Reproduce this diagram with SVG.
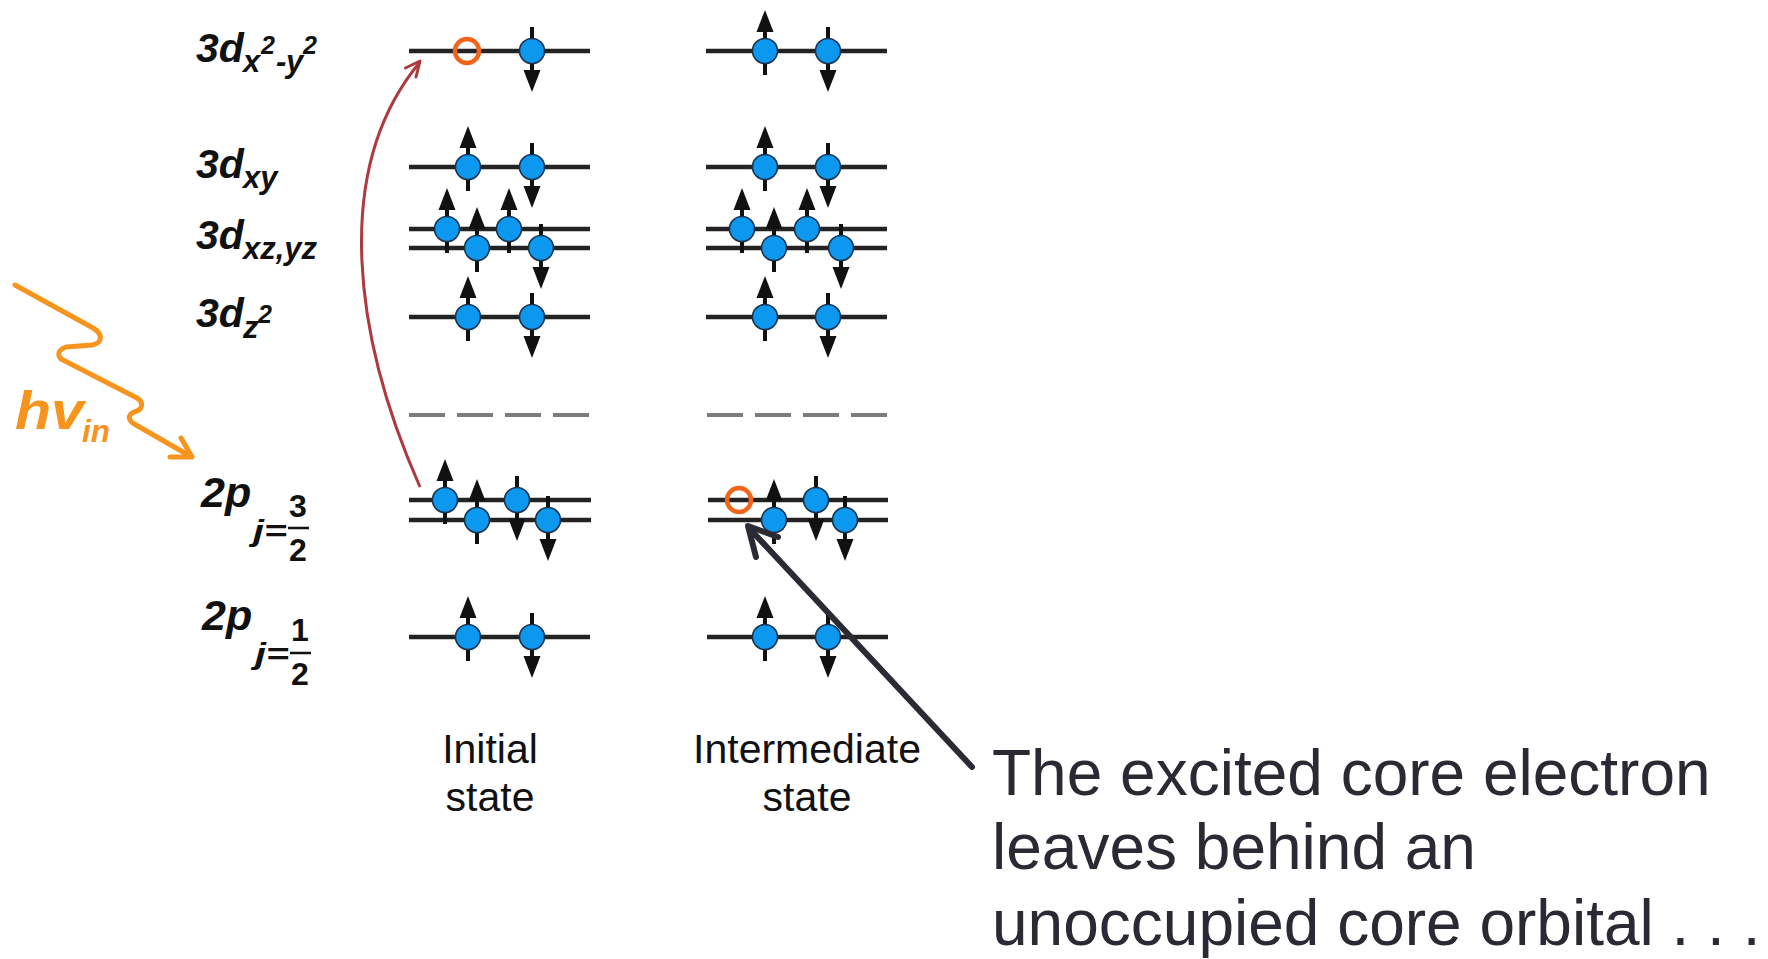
<svg xmlns="http://www.w3.org/2000/svg" xmlns:xlink="http://www.w3.org/1999/xlink" width="1768" height="959" viewBox="0 0 1768 959">
  <style>
    .lvl { stroke: #232323; stroke-width: 4.5; fill: none; }
    .dash { stroke: #7c7c7c; stroke-width: 4; stroke-dasharray: 36 12; fill: none; }
    .stem { stroke: #111; stroke-width: 4; }
    .head { fill: #111; }
    .el { fill: #0c98ef; stroke: #1a3450; stroke-width: 1.6; }
    .hole { fill: none; stroke: #f2641a; stroke-width: 4.5; }
    .orb { font-family: "Liberation Sans", Arial, sans-serif; font-weight: bold; font-style: italic; fill: #111; }
    .frac { font-family: "Liberation Sans", Arial, sans-serif; font-weight: bold; fill: #111; font-size: 32px; text-anchor: middle; }
    .state { font-family: "Liberation Sans", Arial, sans-serif; font-size: 41px; fill: #111; text-anchor: middle; }
    .note { font-family: "Liberation Sans", Arial, sans-serif; font-size: 64px; fill: #2a2a34; }
    .photon { fill: none; stroke: #f7941d; stroke-width: 5; stroke-linecap: round; stroke-linejoin: round; }
  </style>
  <defs>
    <!-- electron with spin up / spin down, centred on the level -->
    <g id="eu">
      <line class="stem" x1="0" y1="24" x2="0" y2="-20"/>
      <path class="head" d="M-8.5,-19 L8.5,-19 L0,-41 Z"/>
      <circle class="el" r="12.5"/>
    </g>
    <g id="ed">
      <line class="stem" x1="0" y1="-24" x2="0" y2="20"/>
      <path class="head" d="M-8.5,19 L8.5,19 L0,41 Z"/>
      <circle class="el" r="12.5"/>
    </g>
  </defs>

  <rect width="1768" height="959" fill="#ffffff"/>

  <!-- orbital labels -->
  <g id="label-3dx2y2">
    <text class="orb"><tspan x="196" y="62" font-size="41">3d</tspan><tspan x="243" y="72" font-size="31">x</tspan><tspan x="261" y="54" font-size="25">2</tspan><tspan x="276" y="72" font-size="31">-</tspan><tspan x="286" y="72" font-size="31">y</tspan><tspan x="303" y="54" font-size="25">2</tspan></text>
  </g>
  <g id="label-3dxy">
    <text class="orb"><tspan x="196" y="178" font-size="41">3d</tspan><tspan x="243" y="188" font-size="31">xy</tspan></text>
  </g>
  <g id="label-3dxzyz">
    <text class="orb"><tspan x="196" y="249" font-size="41">3d</tspan><tspan x="243" y="259" font-size="31">xz,yz</tspan></text>
  </g>
  <g id="label-3dz2">
    <text class="orb"><tspan x="196" y="327" font-size="41">3d</tspan><tspan x="243" y="338" font-size="31">z</tspan><tspan x="258" y="323" font-size="25">2</tspan></text>
  </g>
  <g id="label-2p32">
    <text class="orb" x="201" y="507" font-size="43">2p</text>
    <text class="orb" x="253" y="541" font-size="29" textLength="34" lengthAdjust="spacingAndGlyphs">j=</text>
    <text class="frac" x="298" y="517">3</text>
    <line x1="288" y1="528" x2="309" y2="528" stroke="#111" stroke-width="2.5"/>
    <text class="frac" x="298" y="561">2</text>
  </g>
  <g id="label-2p12">
    <text class="orb" x="202" y="630" font-size="43">2p</text>
    <text class="orb" x="255" y="664" font-size="29" textLength="34" lengthAdjust="spacingAndGlyphs">j=</text>
    <text class="frac" x="300" y="641">1</text>
    <line x1="290" y1="653" x2="311" y2="653" stroke="#111" stroke-width="2.5"/>
    <text class="frac" x="300" y="685">2</text>
  </g>

  <!-- incoming photon -->
  <g id="photon">
    <path class="photon" d="M15,285 L93,328 C103,334 103,343 92,345 L66,347 C57,350 57,357 63,360 L137,398 C144,402 143,410 134,412 C127,415 128,421 136,425 L190,456"/>
    <polyline class="photon" points="181,438 192,457 170,457"/>
    <text x="15" y="429" font-family="Liberation Sans, Arial, sans-serif" font-weight="bold" font-style="italic" font-size="54" fill="#f7941d" textLength="69" lengthAdjust="spacingAndGlyphs">hv</text>
    <text x="82" y="442" font-family="Liberation Sans, Arial, sans-serif" font-weight="bold" font-style="italic" font-size="31" fill="#f7941d" textLength="28" lengthAdjust="spacingAndGlyphs">in</text>
  </g>

  <!-- initial state column -->
  <g id="initial-state">
    <g id="init-3dx2y2">
      <line class="lvl" x1="409" y1="51" x2="590" y2="51"/>
      <circle class="hole" cx="467" cy="51" r="12"/>
      <use xlink:href="#ed" x="532" y="51"/>
    </g>
    <g id="init-3dxy">
      <line class="lvl" x1="409" y1="167" x2="590" y2="167"/>
      <use xlink:href="#eu" x="468" y="167"/>
      <use xlink:href="#ed" x="532" y="167"/>
    </g>
    <g id="init-3dxzyz">
      <line class="lvl" x1="409" y1="229" x2="590" y2="229"/>
      <line class="lvl" x1="409" y1="248" x2="590" y2="248"/>
      <use xlink:href="#eu" x="447" y="229"/>
      <use xlink:href="#eu" x="509" y="229"/>
      <use xlink:href="#eu" x="477" y="248"/>
      <use xlink:href="#ed" x="541" y="248"/>
    </g>
    <g id="init-3dz2">
      <line class="lvl" x1="409" y1="317" x2="590" y2="317"/>
      <use xlink:href="#eu" x="468" y="317"/>
      <use xlink:href="#ed" x="532" y="317"/>
    </g>
    <g id="init-gap">
      <line class="dash" x1="409" y1="415" x2="589" y2="415"/>
    </g>
    <g id="init-2p32">
      <line class="lvl" x1="409" y1="500" x2="591" y2="500"/>
      <line class="lvl" x1="409" y1="520" x2="591" y2="520"/>
      <use xlink:href="#eu" x="445" y="500"/>
      <use xlink:href="#ed" x="517" y="500"/>
      <use xlink:href="#eu" x="477" y="520"/>
      <use xlink:href="#ed" x="548" y="520"/>
    </g>
    <g id="init-2p12">
      <line class="lvl" x1="409" y1="637" x2="590" y2="637" stroke-width="5.5"/>
      <use xlink:href="#eu" x="468" y="637"/>
      <use xlink:href="#ed" x="532" y="637"/>
    </g>
    <g id="init-caption">
      <text class="state" x="490" y="763">Initial</text>
      <text class="state" x="490" y="811">state</text>
    </g>
  </g>

  <!-- intermediate state column -->
  <g id="intermediate-state">
    <g id="inter-3dx2y2">
      <line class="lvl" x1="706" y1="51" x2="887" y2="51"/>
      <use xlink:href="#eu" x="765" y="51"/>
      <use xlink:href="#ed" x="828" y="51"/>
    </g>
    <g id="inter-3dxy">
      <line class="lvl" x1="706" y1="167" x2="887" y2="167"/>
      <use xlink:href="#eu" x="765" y="167"/>
      <use xlink:href="#ed" x="828" y="167"/>
    </g>
    <g id="inter-3dxzyz">
      <line class="lvl" x1="706" y1="229" x2="887" y2="229"/>
      <line class="lvl" x1="706" y1="248" x2="887" y2="248"/>
      <use xlink:href="#eu" x="742" y="229"/>
      <use xlink:href="#eu" x="807" y="229"/>
      <use xlink:href="#eu" x="774" y="248"/>
      <use xlink:href="#ed" x="841" y="248"/>
    </g>
    <g id="inter-3dz2">
      <line class="lvl" x1="706" y1="317" x2="887" y2="317"/>
      <use xlink:href="#eu" x="765" y="317"/>
      <use xlink:href="#ed" x="828" y="317"/>
    </g>
    <g id="inter-gap">
      <line class="dash" x1="707" y1="415" x2="887" y2="415"/>
    </g>
    <g id="inter-2p32">
      <line class="lvl" x1="708" y1="500" x2="888" y2="500"/>
      <line class="lvl" x1="708" y1="520" x2="888" y2="520"/>
      <circle class="hole" cx="739" cy="500" r="12"/>
      <use xlink:href="#ed" x="816" y="500"/>
      <use xlink:href="#eu" x="774" y="520"/>
      <use xlink:href="#ed" x="845" y="520"/>
    </g>
    <g id="inter-2p12">
      <line class="lvl" x1="707" y1="637" x2="888" y2="637" stroke-width="5.5"/>
      <use xlink:href="#eu" x="765" y="637"/>
      <use xlink:href="#ed" x="828" y="637"/>
    </g>
    <g id="inter-caption">
      <text class="state" x="807" y="763">Intermediate</text>
      <text class="state" x="807" y="811">state</text>
    </g>
  </g>

  <!-- connectors -->
  <g id="connectors">
    <!-- excitation of the core electron into the empty 3d level -->
    <path d="M420,487 C355,340 330,170 420,62" fill="none" stroke="#ad3a3e" stroke-width="3"/>
    <polyline points="405.5,68 420,61 416,77" fill="none" stroke="#ad3a3e" stroke-width="3" stroke-linecap="round" stroke-linejoin="round"/>
    <!-- pointer to the core hole -->
    <line x1="972" y1="767" x2="749" y2="528" stroke="#2b2b36" stroke-width="6" stroke-linecap="round"/>
    <polyline points="756,557 748,526 778,537" fill="none" stroke="#2b2b36" stroke-width="6" stroke-linecap="round" stroke-linejoin="round"/>
  </g>

  <!-- explanatory note -->
  <g id="note">
    <text class="note" x="992" y="795">The excited core electron</text>
    <text class="note" x="992" y="869">leaves behind an</text>
    <text class="note" x="992" y="945">unoccupied core orbital . . .</text>
  </g>
</svg>
